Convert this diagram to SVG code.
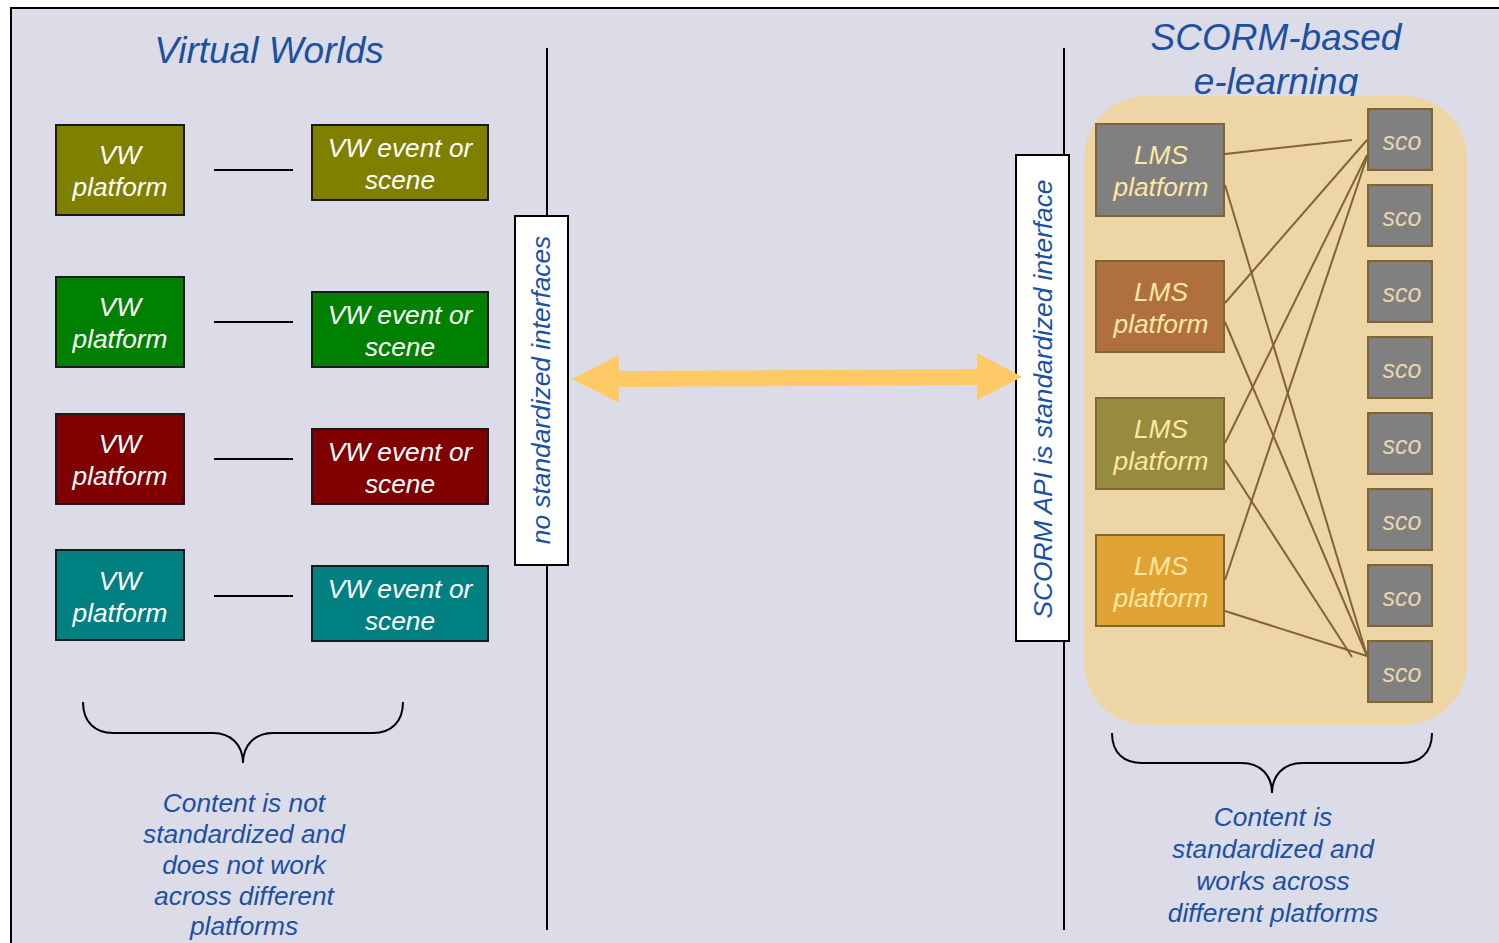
<svg xmlns="http://www.w3.org/2000/svg" width="1499" height="943" viewBox="0 0 1499 943">
<style>
text{font-family:"Liberation Sans",Arial,sans-serif;font-style:italic;text-anchor:middle}
.title{font-size:37px;fill:#1C50A0}
.blue{font-size:26.3px;fill:#1C50A0}
.wt{font-size:26.3px;fill:#ffffff}
.lt{font-size:26.3px;fill:#FFE7A4}
.st{font-size:25px;fill:#E8D6B2}
.vw{stroke:#1a1a1a;stroke-width:2}
.lms{stroke:#7F6534;stroke-width:2}
.blk{stroke:#000;stroke-width:2;fill:none}
.conn{stroke:#7F6534;stroke-width:2;fill:none}
</style>
<rect x="0" y="0" width="1499" height="943" fill="#ffffff"/>
<rect x="11" y="8" width="1500" height="960" fill="#DCDCE8" stroke="#000" stroke-width="2"/>

<text class="title" x="269" y="63">Virtual Worlds</text>
<text class="title" x="1276" y="50">SCORM-based</text>
<text class="title" x="1276" y="94">e-learning</text>

<g id="dividers">
<line class="blk" x1="547" y1="48" x2="547" y2="930"/>
<line class="blk" x1="1064" y1="48" x2="1064" y2="930"/>
</g>

<g id="vw1a"><rect class="vw" x="56" y="125" width="128" height="90" fill="#808000"/><text class="wt" x="120" y="164">VW</text><text class="wt" x="120" y="196">platform</text></g>
<g id="vw1b"><rect class="vw" x="312" y="125" width="176" height="75" fill="#808000"/><text class="wt" x="400" y="157">VW event or</text><text class="wt" x="400" y="189">scene</text></g>
<g id="vw2a"><rect class="vw" x="56" y="277" width="128" height="90" fill="#008000"/><text class="wt" x="120" y="316">VW</text><text class="wt" x="120" y="348">platform</text></g>
<g id="vw2b"><rect class="vw" x="312" y="292" width="176" height="75" fill="#008000"/><text class="wt" x="400" y="324">VW event or</text><text class="wt" x="400" y="356">scene</text></g>
<g id="vw3a"><rect class="vw" x="56" y="414" width="128" height="90" fill="#800000"/><text class="wt" x="120" y="453">VW</text><text class="wt" x="120" y="485">platform</text></g>
<g id="vw3b"><rect class="vw" x="312" y="429" width="176" height="75" fill="#800000"/><text class="wt" x="400" y="461">VW event or</text><text class="wt" x="400" y="493">scene</text></g>
<g id="vw4a"><rect class="vw" x="56" y="550" width="128" height="90" fill="#008080"/><text class="wt" x="120" y="590">VW</text><text class="wt" x="120" y="622">platform</text></g>
<g id="vw4b"><rect class="vw" x="312" y="566" width="176" height="75" fill="#008080"/><text class="wt" x="400" y="598">VW event or</text><text class="wt" x="400" y="630">scene</text></g>

<g id="nostd"><rect x="515" y="216" width="53" height="349" fill="#ffffff" stroke="#000" stroke-width="2"/><text class="blue" transform="translate(541,390) rotate(-90)" x="0" y="9">no standardized interfaces</text></g>
<g id="scormapi"><rect x="1016" y="155" width="53" height="486" fill="#ffffff" stroke="#000" stroke-width="2"/><text class="blue" transform="translate(1043,399) rotate(-90)" x="0" y="9">SCORM API is standardized interface</text></g>

<g id="arrow"><polygon points="572,379 619,355 619,371 977,369 977,353 1022,377 977,400 977,385 619,387 619,403" fill="#FFC966"/></g>

<g id="elearning"><rect x="1084" y="96" width="383" height="629" rx="62" ry="62" fill="#EDD5A5"/></g>

<g id="connectors">
<line class="blk" x1="214" y1="170" x2="293" y2="170"/>
<line class="blk" x1="214" y1="322" x2="293" y2="322"/>
<line class="blk" x1="214" y1="459" x2="293" y2="459"/>
<line class="blk" x1="214" y1="596" x2="293" y2="596"/>
<line class="conn" x1="1225" y1="154" x2="1352" y2="140"/>
<line class="conn" x1="1225" y1="303" x2="1367" y2="140"/>
<line class="conn" x1="1225" y1="443" x2="1367" y2="155"/>
<line class="conn" x1="1225" y1="580" x2="1367" y2="157"/>
<line class="conn" x1="1225" y1="185" x2="1367" y2="656"/>
<line class="conn" x1="1225" y1="322" x2="1367" y2="656"/>
<line class="conn" x1="1225" y1="460" x2="1352" y2="657"/>
<line class="conn" x1="1225" y1="611" x2="1367" y2="656"/>
</g>

<g id="lms1"><rect class="lms" x="1096" y="124" width="128" height="92" fill="#808080"/><text class="lt" x="1161" y="164">LMS</text><text class="lt" x="1161" y="196">platform</text></g>
<g id="lms2"><rect class="lms" x="1096" y="261" width="128" height="91" fill="#B0703E"/><text class="lt" x="1161" y="301">LMS</text><text class="lt" x="1161" y="333">platform</text></g>
<g id="lms3"><rect class="lms" x="1096" y="398" width="128" height="91" fill="#978B3E"/><text class="lt" x="1161" y="438">LMS</text><text class="lt" x="1161" y="470">platform</text></g>
<g id="lms4"><rect class="lms" x="1096" y="535" width="128" height="91" fill="#E0A232"/><text class="lt" x="1161" y="575">LMS</text><text class="lt" x="1161" y="607">platform</text></g>

<g id="sco1"><rect class="lms" x="1368" y="109" width="64" height="61" fill="#808080"/><text class="st" x="1402" y="150">sco</text></g>
<g id="sco2"><rect class="lms" x="1368" y="185" width="64" height="61" fill="#808080"/><text class="st" x="1402" y="226">sco</text></g>
<g id="sco3"><rect class="lms" x="1368" y="261" width="64" height="61" fill="#808080"/><text class="st" x="1402" y="302">sco</text></g>
<g id="sco4"><rect class="lms" x="1368" y="337" width="64" height="61" fill="#808080"/><text class="st" x="1402" y="378">sco</text></g>
<g id="sco5"><rect class="lms" x="1368" y="413" width="64" height="61" fill="#808080"/><text class="st" x="1402" y="454">sco</text></g>
<g id="sco6"><rect class="lms" x="1368" y="489" width="64" height="61" fill="#808080"/><text class="st" x="1402" y="530">sco</text></g>
<g id="sco7"><rect class="lms" x="1368" y="565" width="64" height="61" fill="#808080"/><text class="st" x="1402" y="606">sco</text></g>
<g id="sco8"><rect class="lms" x="1368" y="641" width="64" height="61" fill="#808080"/><text class="st" x="1402" y="682">sco</text></g>

<g id="braceLeft"><path class="blk" d="M83,702 C83,722 95,733 113,733 L213,733 C231,733 243,745 243,763 C243,745 255,733 273,733 L373,733 C391,733 403,722 403,702"/>
<text class="blue" x="244" y="812">Content is not</text>
<text class="blue" x="244" y="843">standardized and</text>
<text class="blue" x="244" y="874">does not work</text>
<text class="blue" x="244" y="905">across different</text>
<text class="blue" x="244" y="935">platforms</text></g>

<g id="braceRight"><path class="blk" d="M1112,733 C1112,753 1124,763 1142,763 L1242,763 C1260,763 1272,775 1272,793 C1272,775 1284,763 1302,763 L1402,763 C1420,763 1432,753 1432,733"/>
<text class="blue" x="1273" y="826">Content is</text>
<text class="blue" x="1273" y="858">standardized and</text>
<text class="blue" x="1273" y="890">works across</text>
<text class="blue" x="1273" y="922">different platforms</text></g>
</svg>
